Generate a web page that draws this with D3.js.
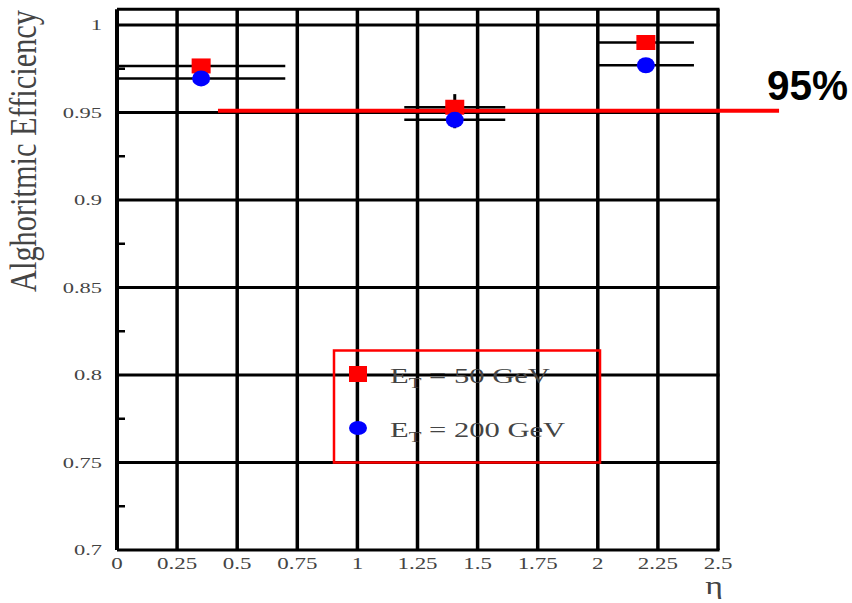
<!DOCTYPE html>
<html>
<head>
<meta charset="utf-8">
<script src="https://cdn.jsdelivr.net/npm/d3@7"></script>
<style>
    body { margin: 0; background: #fff; }
    svg { display: block; }
</style>
</head>
<body>
<div id="graph1"></div>
<script>
// data
let etaCenters = [0.35, 1.405, 2.2];
let etaHalfWidths = [0.35, 0.21, 0.2];
let eff50 = [0.9766, 0.953, 0.990];
let err50 = [0.003, 0.0075, 0.003];
let eff200 = [0.9695, 0.9458, 0.977];
let err200 = [0.003, 0.0048, 0.003];
let xTicks = [0, 0.25, 0.5, 0.75, 1, 1.25, 1.5, 1.75, 2, 2.25, 2.5];
let xTickLabels = ["0", "0.25", "0.5", "0.75", "1", "1.25", "1.5", "1.75", "2", "2.25", "2.5"];
let yTicks = [0.7, 0.75, 0.8, 0.85, 0.9, 0.95, 1];
let yTickLabels = ["0.7", "0.75", "0.8", "0.85", "0.9", "0.95", "1"];
let yMinorTicks = [0.725, 0.775, 0.825, 0.875, 0.925, 0.975];
let threshold = 0.951;
let thresholdRange = [0.42, 2.754];
let thresholdLabel = "95%";
let legendLabels = [["E", "T", " = 50 GeV"], ["E", "T", " = 200 GeV"]];

(function () {
    let width = 852,
        height = 603;

    let svg = d3.select("#graph1")
        .append("svg")
        .attr("width", width)
        .attr("height", height);

    // scales
    let x = d3.scaleLinear().domain([0, 2.5]).range([117, 718]);
    let y = d3.scaleLinear().domain([0.7, 1]).range([550, 25]);
    let yTop = 1.009;

    let serif = "'Liberation Serif', 'DejaVu Serif', serif";
    let labelColor = "#444";

    // vertical grid lines
    svg.append("g").selectAll("line")
        .data(xTicks)
        .enter()
        .append("line")
        .attr("x1", d => x(d))
        .attr("x2", d => x(d))
        .attr("y1", y(yTop))
        .attr("y2", y(0.7))
        .attr("stroke", "#000")
        .attr("stroke-width", d => d === 0 ? 4 : 3.5);

    // horizontal grid lines
    svg.append("g").selectAll("line")
        .data(yTicks.concat([yTop]))
        .enter()
        .append("line")
        .attr("x1", x(0))
        .attr("x2", x(2.5) + 1.5)
        .attr("y1", d => y(d))
        .attr("y2", d => y(d))
        .attr("stroke", "#000")
        .attr("stroke-width", 3);

    // minor ticks on y axis
    svg.append("g").selectAll("line")
        .data(yMinorTicks)
        .enter()
        .append("line")
        .attr("x1", x(0))
        .attr("x2", x(0) + 8)
        .attr("y1", d => y(d))
        .attr("y2", d => y(d))
        .attr("stroke", "#000")
        .attr("stroke-width", 2.5);

    // x tick labels (horizontally stretched like the scan)
    svg.append("g").selectAll("text")
        .data(xTicks)
        .enter()
        .append("text")
        .attr("transform", d => `translate(${x(d)}, 569) scale(1.35, 1)`)
        .style("text-anchor", "middle")
        .style("font-family", serif)
        .style("font-size", "17px")
        .attr("fill", labelColor)
        .text((d, i) => xTickLabels[i]);

    // y tick labels
    svg.append("g").selectAll("text")
        .data(yTicks)
        .enter()
        .append("text")
        .attr("transform", d => `translate(102, ${y(d) + 5}) scale(1.5, 1)`)
        .style("text-anchor", "end")
        .style("font-family", serif)
        .style("font-size", "15px")
        .attr("fill", labelColor)
        .text((d, i) => yTickLabels[i]);

    // axis titles
    svg.append("text")
        .attr("transform", "translate(36, 151) scale(1.4, 1) rotate(-90)")
        .style("text-anchor", "middle")
        .style("font-family", serif)
        .style("font-size", "27px")
        .attr("fill", labelColor)
        .attr("textLength", 282)
        .attr("lengthAdjust", "spacingAndGlyphs")
        .text("Alghoritmic Efficiency");

    svg.append("text")
        .attr("transform", "translate(714, 594) scale(1.3, 1)")
        .style("text-anchor", "middle")
        .style("font-family", serif)
        .style("font-size", "26px")
        .attr("fill", labelColor)
        .text("η");

    // 95% threshold line
    svg.append("line")
        .attr("x1", x(thresholdRange[0]))
        .attr("x2", x(thresholdRange[1]))
        .attr("y1", y(threshold))
        .attr("y2", y(threshold))
        .attr("stroke", "#ff0000")
        .attr("stroke-width", 4);

    svg.append("text")
        .attr("x", 767)
        .attr("y", 100)
        .style("font-family", "'Liberation Sans', Arial, sans-serif")
        .style("font-weight", "bold")
        .style("font-size", "43px")
        .attr("fill", "#000")
        .attr("textLength", 81)
        .attr("lengthAdjust", "spacingAndGlyphs")
        .text(thresholdLabel);

    // build point table
    let series = [
        { vals: eff50, errs: err50, color: "#ff0000", shape: "square" },
        { vals: eff200, errs: err200, color: "#0000ff", shape: "circle" }
    ];

    series.forEach(function (s) {
        let pts = etaCenters.map((c, i) => ({ eta: c, hw: etaHalfWidths[i], v: s.vals[i], e: s.errs[i] }));
        let g = svg.append("g");

        // horizontal error bars
        g.selectAll("line.h")
            .data(pts)
            .enter()
            .append("line")
            .attr("x1", d => x(d.eta - d.hw))
            .attr("x2", d => x(d.eta + d.hw))
            .attr("y1", d => y(d.v))
            .attr("y2", d => y(d.v))
            .attr("stroke", "#000")
            .attr("stroke-width", 2.5);

        // vertical error bars
        g.selectAll("line.v")
            .data(pts)
            .enter()
            .append("line")
            .attr("x1", d => x(d.eta))
            .attr("x2", d => x(d.eta))
            .attr("y1", d => y(d.v + d.e))
            .attr("y2", d => y(d.v - d.e))
            .attr("stroke", "#000")
            .attr("stroke-width", 3);
    });

    series.forEach(function (s) {
        let pts = etaCenters.map((c, i) => ({ eta: c, v: s.vals[i] }));
        let g = svg.append("g");
        if (s.shape === "square") {
            g.selectAll("rect")
                .data(pts)
                .enter()
                .append("rect")
                .attr("x", d => x(d.eta) - 9.5)
                .attr("y", d => y(d.v) - 7.5)
                .attr("width", 19)
                .attr("height", 15)
                .attr("fill", s.color);
        } else {
            g.selectAll("ellipse")
                .data(pts)
                .enter()
                .append("ellipse")
                .attr("cx", d => x(d.eta))
                .attr("cy", d => y(d.v))
                .attr("rx", 9)
                .attr("ry", 8)
                .attr("fill", s.color);
        }
    });

    // legend
    let legend = svg.append("g");
    legend.append("rect")
        .attr("x", 334)
        .attr("y", 350.5)
        .attr("width", 266)
        .attr("height", 112)
        .attr("fill", "none")
        .attr("stroke", "#ff0000")
        .attr("stroke-width", 2.5);

    legend.append("rect")
        .attr("x", 349)
        .attr("y", 366)
        .attr("width", 18)
        .attr("height", 16)
        .attr("fill", "#ff0000");

    legend.append("ellipse")
        .attr("cx", 358)
        .attr("cy", 428)
        .attr("rx", 9)
        .attr("ry", 7)
        .attr("fill", "#0000ff");

    let legendText = legend.selectAll("text")
        .data(legendLabels)
        .enter()
        .append("text")
        .attr("transform", (d, i) => `translate(390, ${i === 0 ? 383 : 437}) scale(1.39, 1)`)
        .style("font-family", serif)
        .style("font-size", "22px")
        .attr("fill", labelColor);

    legendText.append("tspan").text(d => d[0]);
    legendText.append("tspan")
        .attr("dy", 5)
        .style("font-size", "15px")
        .text(d => d[1]);
    legendText.append("tspan")
        .attr("dy", -5)
        .text(d => d[2]);
})();
</script>
</body>
</html>
